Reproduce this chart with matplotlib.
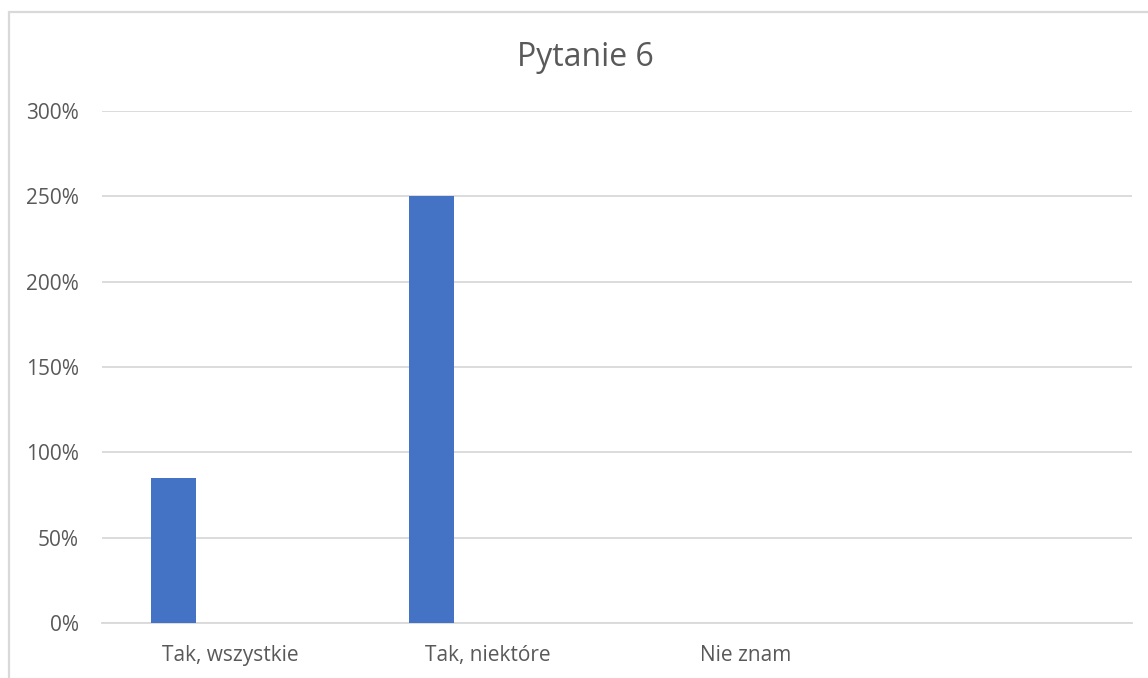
import matplotlib
matplotlib.use("Agg")
import matplotlib.pyplot as plt
from matplotlib.patches import Rectangle
from matplotlib.ticker import FuncFormatter
import numpy as np

# data
categories = ["Tak, wszystkie", "Tak, niektóre", "Nie znam", ""]
values = [0.85, 2.50, 0.0, 0.0]
y_ticks = [0, 0.5, 1.0, 1.5, 2.0, 2.5, 3.0]

TEXT = "#595959"
GRID = "#D9D9D9"
BAR = "#4472C4"

plt.rcParams['font.family'] = ['Open Sans', 'DejaVu Sans']

W, H = 1148, 678
fig = plt.figure(figsize=(W / 100, H / 100), dpi=100)

# chart area border (light grey, runs off right/bottom edges)
fig.patches.append(Rectangle((8.5 / W, -0.1), 1.0, 1.1 - 12.5 / H, transform=fig.transFigure,
                             fill=False, edgecolor=GRID, linewidth=1.6))

ax = fig.add_axes([102 / W, 1 - 623 / H, 1030 / W, 512 / H])

x = np.arange(len(categories))
ax.bar(x - 0.222, values, width=0.175, color=BAR, zorder=3)

ax.set_xlim(-0.5, len(categories) - 0.5)
ax.set_ylim(0, 3.0)
ax.set_yticks(y_ticks)
ax.yaxis.set_major_formatter(FuncFormatter(lambda v, _: f"{v * 100:.0f}%"))
ax.set_xticks(x)
ax.set_xticklabels(categories)

ax.grid(axis='y', color=GRID, linewidth=1.3, zorder=0)
for s in ['top', 'right', 'left']:
    ax.spines[s].set_visible(False)
ax.spines['bottom'].set_color(GRID)
ax.spines['bottom'].set_linewidth(1.3)

ax.tick_params(axis='both', length=0, labelsize=15, colors=TEXT)
ax.tick_params(axis='y', pad=16.5)
ax.tick_params(axis='x', pad=16)

fig.text(585 / W, 1 - 57 / H, "Pytanie 6", ha='center', va='center',
         fontsize=23, color=TEXT)

fig.savefig("out.png", dpi=100, facecolor='white')
